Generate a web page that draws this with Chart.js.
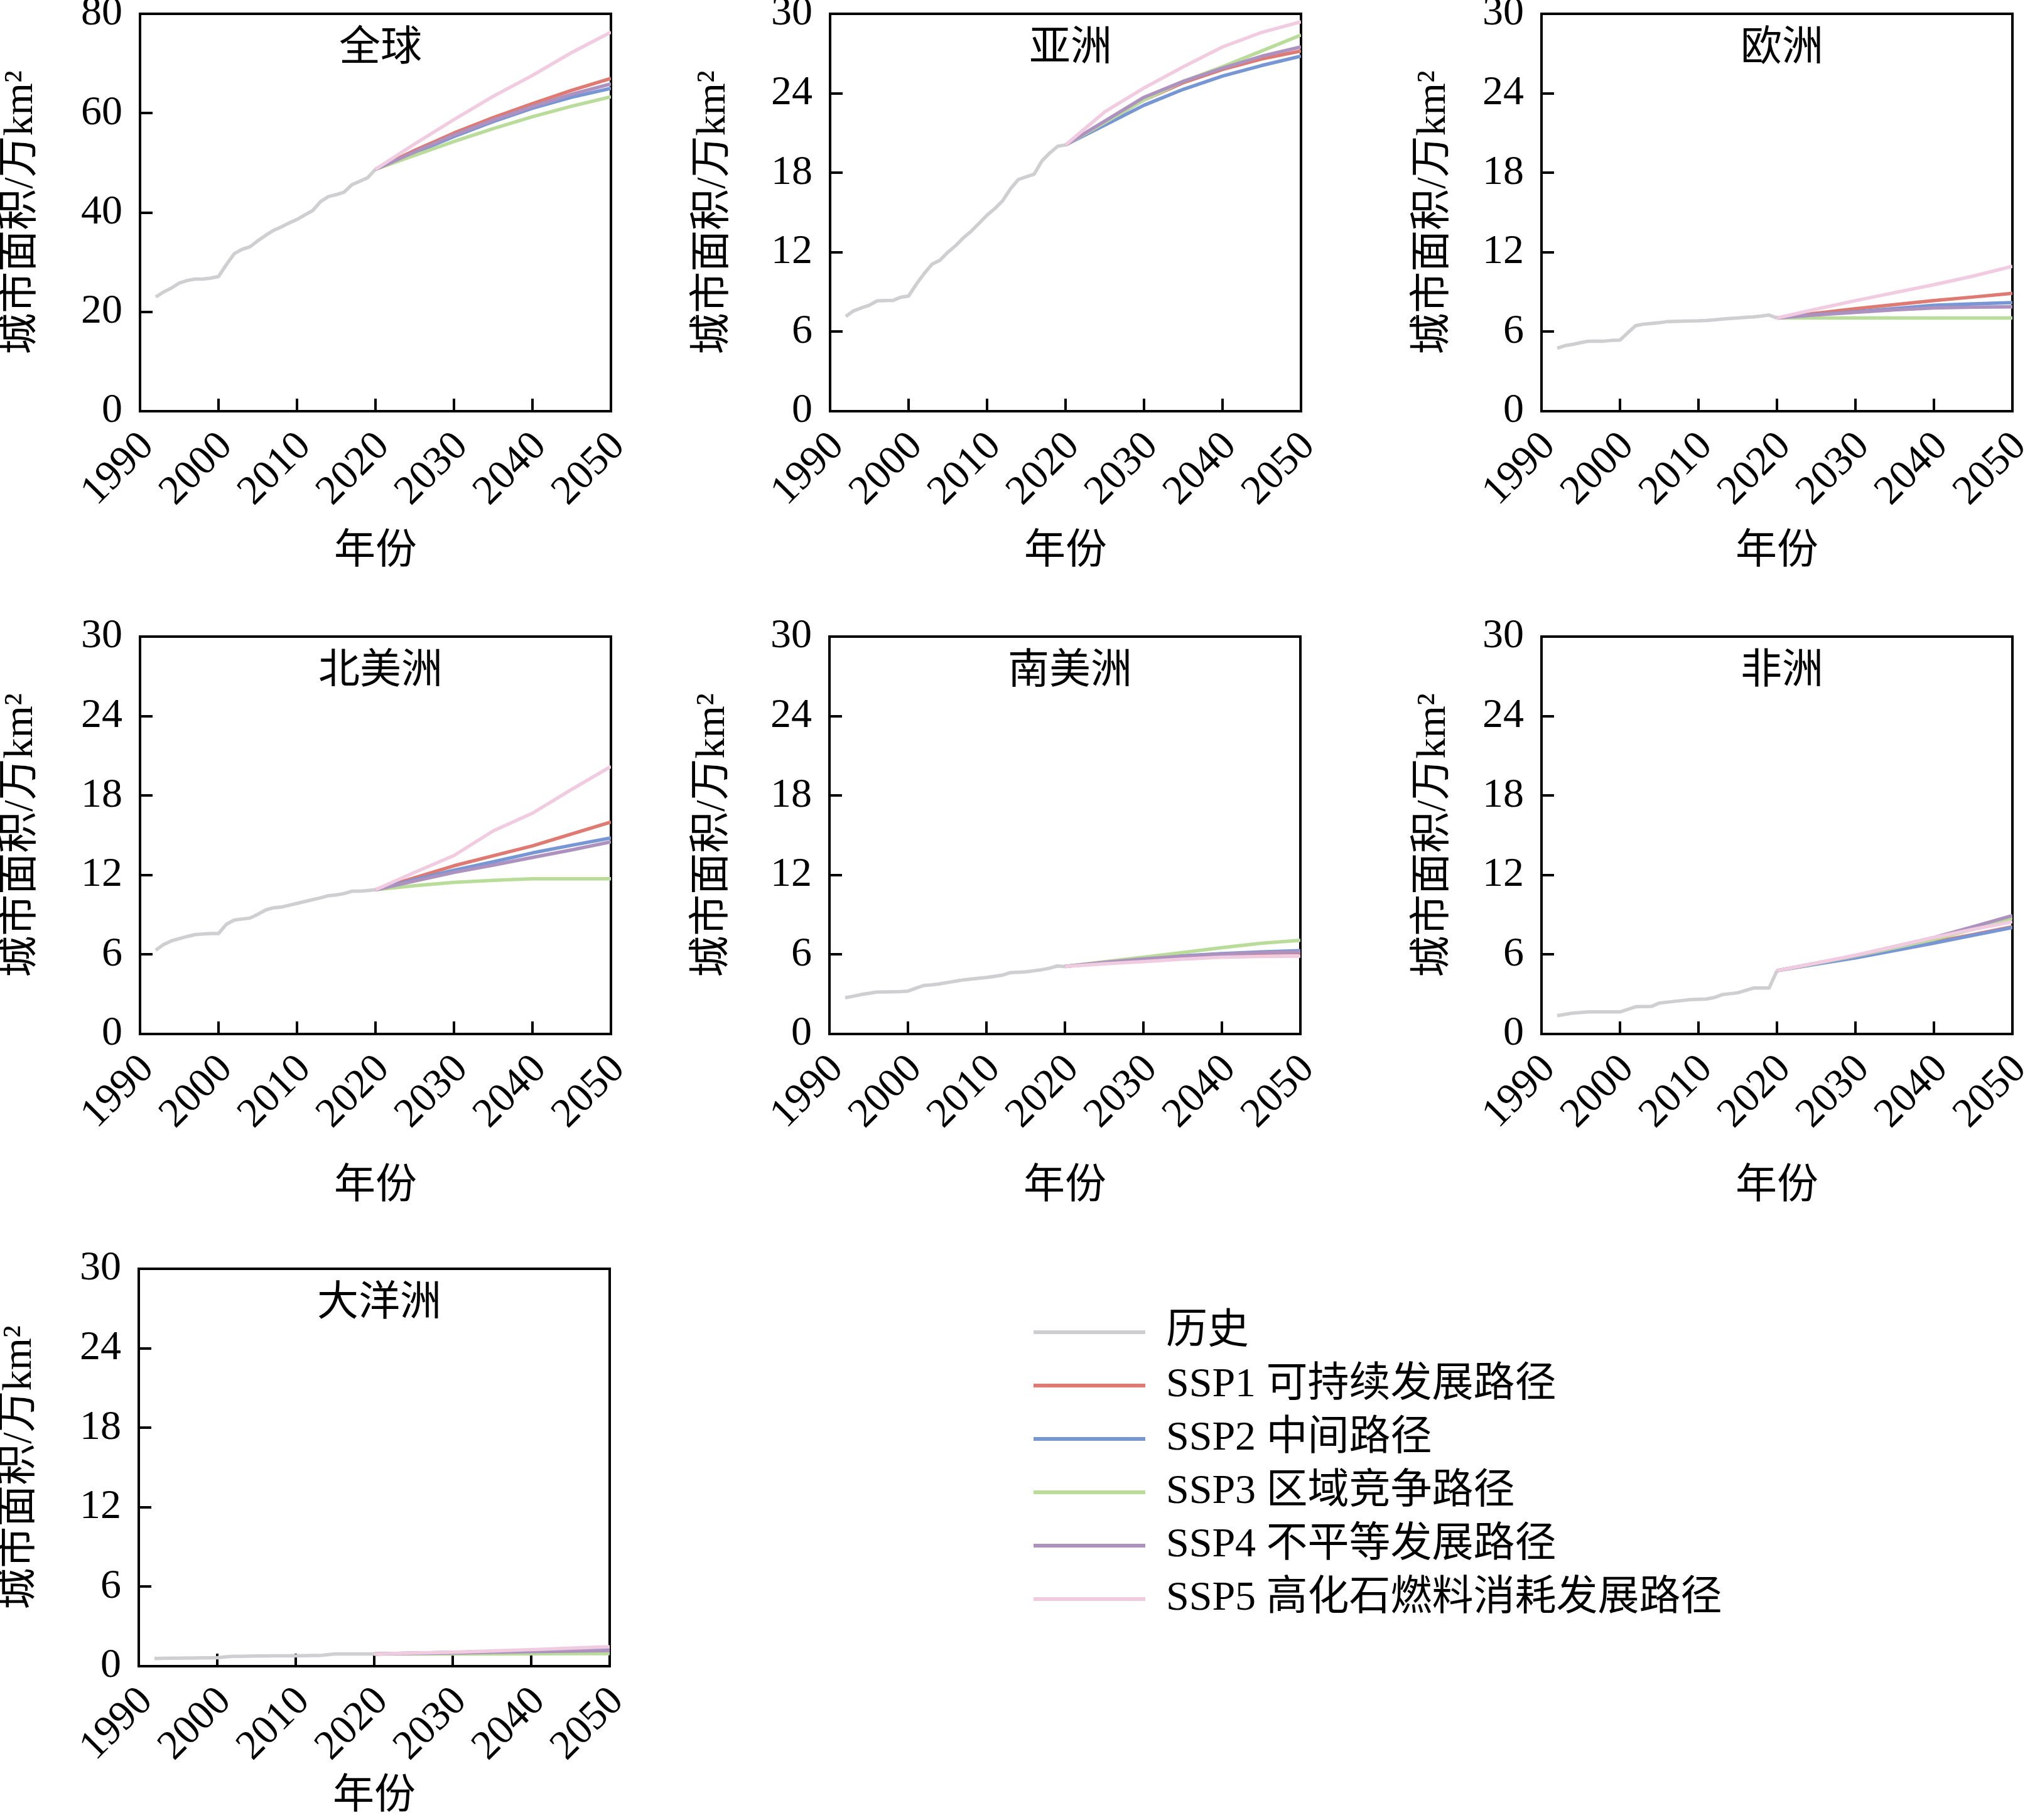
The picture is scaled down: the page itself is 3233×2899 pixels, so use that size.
<!DOCTYPE html>
<html>
<head>
<meta charset="utf-8">
<script src="https://cdn.jsdelivr.net/npm/chart.js@4.4.1/dist/chart.umd.min.js"></script>
<style>
html,body{margin:0;padding:0;background:#fff;overflow:hidden;}
#page{position:relative;width:3233px;height:2899px;overflow:hidden;background:#fff;}
#page canvas{position:absolute;}
</style>
</head>
<body>
<div id="page"></div>
<script>
// ---------------- DATA ----------------
const histYears = [1992,1993,1994,1995,1996,1997,1998,1999,2000,2001,2002,2003,2004,2005,2006,2007,2008,2009,2010,2011,2012,2013,2014,2015,2016,2017,2018,2019,2020];
const projYears = [2020,2025,2030,2035,2040,2045,2050];

const seriesNames = ['历史','SSP1 可持续发展路径','SSP2 中间路径','SSP3 区域竞争路径','SSP4 不平等发展路径','SSP5 高化石燃料消耗发展路径'];
const regionNames = ['全球','亚洲','欧洲','北美洲','南美洲','非洲','大洋洲'];
const xAxisTitle = '年份';
const yAxisTitle = '城市面积/万km²';

// 全球
const globalHist = [23.0,24.0,24.8,25.8,26.3,26.6,26.6,26.8,27.1,29.5,31.7,32.6,33.1,34.3,35.4,36.4,37.1,37.9,38.6,39.5,40.4,42.2,43.2,43.6,44.1,45.6,46.3,47.0,48.7];
const globalSSP1 = [48.7,52.5,56.0,59.1,61.9,64.6,67.0];
const globalSSP2 = [48.7,52.0,55.3,58.3,61.0,63.2,65.0];
const globalSSP3 = [48.7,51.5,54.3,56.9,59.3,61.4,63.3];
const globalSSP4 = [48.7,52.2,55.6,58.6,61.3,63.8,65.9];
const globalSSP5 = [48.7,53.8,58.7,63.4,67.6,72.2,76.3];

// 亚洲
const asiaHist = [7.16,7.58,7.8,8.0,8.33,8.35,8.36,8.6,8.7,9.6,10.4,11.1,11.4,12.0,12.5,13.1,13.6,14.2,14.8,15.3,15.9,16.8,17.5,17.7,17.9,18.9,19.5,20.0,20.1];
const asiaSSP1 = [20.1,21.8,23.5,24.8,25.8,26.6,27.2];
const asiaSSP2 = [20.1,21.6,23.1,24.3,25.3,26.1,26.8];
const asiaSSP3 = [20.1,21.8,23.5,24.9,26.0,27.2,28.4];
const asiaSSP4 = [20.1,21.9,23.7,24.9,25.9,26.8,27.5];
const asiaSSP5 = [20.1,22.6,24.4,26.0,27.5,28.6,29.4];

// 欧洲
const europeHist = [4.76,4.95,5.05,5.18,5.29,5.29,5.29,5.35,5.37,5.93,6.46,6.57,6.62,6.68,6.76,6.78,6.8,6.81,6.82,6.85,6.9,6.95,7.0,7.04,7.08,7.12,7.18,7.26,7.04];
const europeSSP1 = [7.04,7.4,7.74,8.05,8.35,8.62,8.9];
const europeSSP2 = [7.04,7.3,7.5,7.75,8.0,8.1,8.2];
const europeSSP3 = [7.04,7.04,7.04,7.04,7.04,7.04,7.04];
const europeSSP4 = [7.04,7.28,7.46,7.65,7.8,7.85,7.88];
const europeSSP5 = [7.04,7.7,8.35,8.95,9.55,10.2,10.94];

// 北美洲
const naHist = [6.33,6.75,7.03,7.2,7.36,7.5,7.55,7.58,7.58,8.28,8.6,8.68,8.75,9.03,9.36,9.53,9.58,9.72,9.86,10.0,10.14,10.28,10.44,10.5,10.6,10.78,10.78,10.83,10.89];
const naSSP1 = [10.89,11.8,12.7,13.45,14.2,15.1,16.0];
const naSSP2 = [10.89,11.65,12.36,13.0,13.67,14.25,14.8];
const naSSP3 = [10.89,11.2,11.44,11.6,11.72,11.72,11.72];
const naSSP4 = [10.89,11.55,12.2,12.75,13.33,13.9,14.5];
const naSSP5 = [10.89,12.2,13.47,15.33,16.67,18.47,20.2];

// 南美洲
const saHist = [2.74,2.85,2.97,3.07,3.16,3.18,3.19,3.2,3.24,3.45,3.66,3.71,3.78,3.88,3.98,4.08,4.15,4.21,4.27,4.35,4.44,4.63,4.66,4.69,4.77,4.85,4.96,5.13,5.10];
const saSSP1 = [5.10,5.4,5.66,5.85,6.0,6.1,6.15];
const saSSP2 = [5.10,5.4,5.68,5.9,6.07,6.2,6.29];
const saSSP3 = [5.10,5.45,5.79,6.15,6.52,6.85,7.07];
const saSSP4 = [5.10,5.4,5.66,5.88,6.03,6.15,6.2];
const saSSP5 = [5.10,5.3,5.46,5.65,5.79,5.85,5.88];

// 非洲
const africaHist = [1.39,1.48,1.58,1.62,1.67,1.67,1.67,1.67,1.67,1.86,2.06,2.07,2.08,2.33,2.4,2.47,2.53,2.6,2.62,2.64,2.75,2.97,3.04,3.11,3.29,3.47,3.47,3.47,4.78];
const africaSSP1 = [4.78,5.3,5.82,6.4,6.95,7.5,8.1];
const africaSSP2 = [4.78,5.27,5.75,6.3,6.86,7.45,8.03];
const africaSSP3 = [4.78,5.33,5.89,6.5,7.14,7.9,8.75];
const africaSSP4 = [4.78,5.35,5.92,6.6,7.28,8.1,8.94];
const africaSSP5 = [4.78,5.35,5.95,6.6,7.28,7.9,8.47];

// 大洋洲
const oceaniaHist = [0.58,0.59,0.6,0.61,0.62,0.62,0.63,0.63,0.64,0.7,0.75,0.75,0.76,0.77,0.77,0.78,0.78,0.78,0.78,0.79,0.8,0.8,0.86,0.92,0.92,0.92,0.92,0.92,0.92];
const oceaniaSSP1 = [0.92,0.98,1.03,1.09,1.15,1.2,1.25];
const oceaniaSSP2 = [0.92,0.98,1.04,1.1,1.16,1.22,1.28];
const oceaniaSSP3 = [0.92,0.92,0.93,0.93,0.94,0.95,0.95];
const oceaniaSSP4 = [0.92,0.96,1.0,1.05,1.1,1.14,1.18];
const oceaniaSSP5 = [0.92,1.0,1.06,1.15,1.25,1.36,1.47];

const globalYMax = 80, globalYStep = 20;
const regionYMax = 30, regionYStep = 6;

// ---------------- STYLE / LAYOUT ----------------
const seriesColors = ['#cfcfd1','#de7a72','#7796d4','#b9dc9a','#ad92c0','#f1cbe0'];
const FONT = "'Liberation Serif','Noto Sans CJK SC',serif";
const FS = 66;
Chart.defaults.font.family = FONT;
Chart.defaults.color = '#000';

const PLOT_W = 750, PLOT_H = 633;
const panels = [
  {name:regionNames[0], hist:globalHist, ssp:[globalSSP1,globalSSP2,globalSSP3,globalSSP4,globalSSP5], ymax:globalYMax, ystep:globalYStep, left:223,  top:22,   xh:270, xtp:5.4,  ytp:1.4},
  {name:regionNames[1], hist:asiaHist,   ssp:[asiaSSP1,asiaSSP2,asiaSSP3,asiaSSP4,asiaSSP5],       ymax:regionYMax, ystep:regionYStep, left:1322, top:22,   xh:270, xtp:5.4,  ytp:5.4},
  {name:regionNames[2], hist:europeHist, ssp:[europeSSP1,europeSSP2,europeSSP3,europeSSP4,europeSSP5], ymax:regionYMax, ystep:regionYStep, left:2455, top:22, xh:270, xtp:5.4,  ytp:19.4},
  {name:regionNames[3], hist:naHist,     ssp:[naSSP1,naSSP2,naSSP3,naSSP4,naSSP5],                 ymax:regionYMax, ystep:regionYStep, left:223,  top:1014, xh:290, xtp:6.4,  ytp:1.4},
  {name:regionNames[4], hist:saHist,     ssp:[saSSP1,saSSP2,saSSP3,saSSP4,saSSP5],                 ymax:regionYMax, ystep:regionYStep, left:1321, top:1014, xh:290, xtp:6.4,  ytp:5.4},
  {name:regionNames[5], hist:africaHist, ssp:[africaSSP1,africaSSP2,africaSSP3,africaSSP4,africaSSP5], ymax:regionYMax, ystep:regionYStep, left:2455, top:1014, xh:290, xtp:6.4, ytp:19.4},
  {name:regionNames[6], hist:oceaniaHist,ssp:[oceaniaSSP1,oceaniaSSP2,oceaniaSSP3,oceaniaSSP4,oceaniaSSP5], ymax:regionYMax, ystep:regionYStep, left:221, top:2021, xh:260, xtp:11.4, ytp:1.4}
];

const page = document.getElementById('page');

const panelTitle = {
  id: 'panelTitle',
  afterDraw(chart, args, opts) {
    const {ctx, chartArea: a} = chart;
    ctx.save();
    ctx.font = FS + 'px ' + FONT;
    ctx.fillStyle = '#000';
    ctx.textAlign = 'center';
    ctx.textBaseline = 'middle';
    ctx.fillText(opts.text, (a.left + a.right) / 2 + 8, a.top + 57);
    ctx.restore();
  }
};

function addCanvas(left, top, w, h) {
  const cv = document.createElement('canvas');
  cv.width = w; cv.height = h;
  cv.style.left = left + 'px'; cv.style.top = top + 'px';
  cv.style.width = w + 'px'; cv.style.height = h + 'px';
  page.appendChild(cv);
  return cv;
}

function makePanel(p) {
  const W = 230, PT = 40, PR = 70, H = p.xh;
  const cw = W + PLOT_W + PR, ch = PT + PLOT_H + H;
  const cv = addCanvas(p.left - W, p.top - PT, cw, ch);

  const datasets = [{
    label: seriesNames[0],
    data: histYears.map((yr, i) => ({x: yr, y: p.hist[i]})),
    borderColor: seriesColors[0], backgroundColor: seriesColors[0], order: 5
  }].concat(p.ssp.map((arr, k) => ({
    label: seriesNames[k + 1],
    data: projYears.map((yr, i) => ({x: yr, y: arr[i]})),
    borderColor: seriesColors[k + 1], backgroundColor: seriesColors[k + 1], order: 4 - k
  })));

  const gridOpts = {display: true, drawOnChartArea: false, drawTicks: true, tickLength: -20, lineWidth: 4, color: '#000'};
  const borderOpts = {display: true, color: '#000', width: 4};

  new Chart(cv, {
    type: 'line',
    data: {datasets},
    plugins: [panelTitle],
    options: {
      responsive: false, animation: false, devicePixelRatio: 1,
      layout: {padding: {left: 0, top: PT, right: PR, bottom: 0}},
      elements: {
        point: {radius: 0, hoverRadius: 0},
        line: {borderWidth: 5.5, tension: 0, fill: false, borderCapStyle: 'butt', borderJoinStyle: 'round'}
      },
      plugins: {legend: {display: false}, tooltip: {enabled: false}, panelTitle: {text: p.name}},
      scales: {
        x: {
          type: 'linear', position: 'bottom', min: 1990, max: 2050,
          ticks: {stepSize: 10, autoSkip: false, minRotation: 45, maxRotation: 45, padding: 38, labelOffset: 12,
                  color: '#000', font: {size: FS}, callback: v => String(v)},
          grid: gridOpts, border: borderOpts,
          title: {display: true, text: xAxisTitle, color: '#000', font: {size: FS}, padding: {top: 0, bottom: p.xtp}},
          afterFit: s => { s.height = H; s.paddingLeft = 0; s.paddingRight = 0; }
        },
        y: {
          type: 'linear', position: 'left', min: 0, max: p.ymax,
          ticks: {stepSize: p.ystep, padding: 48, color: '#000', font: {size: FS}, callback: v => String(v)},
          grid: gridOpts, border: borderOpts,
          title: {display: true, text: yAxisTitle, color: '#000', font: {size: FS}, padding: {top: p.ytp, bottom: 0}},
          afterFit: s => { s.width = W; s.paddingTop = 0; s.paddingBottom = 0; }
        },
        x2: {
          type: 'linear', position: 'top', min: 1990, max: 2050,
          ticks: {display: false}, grid: {display: true, drawOnChartArea: false, drawTicks: false},
          border: borderOpts, afterFit: s => { s.height = 0; }
        },
        y2: {
          type: 'linear', position: 'right', min: 0, max: p.ymax,
          ticks: {display: false}, grid: {display: true, drawOnChartArea: false, drawTicks: false},
          border: borderOpts, afterFit: s => { s.width = 0; }
        }
      }
    }
  });
}

panels.forEach(makePanel);

// ---------------- LEGEND ----------------
const legendCanvas = addCanvas(1627, 2070, 2700, 600);
new Chart(legendCanvas, {
  type: 'line',
  data: {datasets: seriesNames.map((n, i) => ({label: n, data: [], borderColor: seriesColors[i], backgroundColor: seriesColors[i], borderWidth: 0}))},
  options: {
    responsive: false, animation: false, devicePixelRatio: 1,
    layout: {padding: 0},
    scales: {x: {display: false}, y: {display: false}},
    plugins: {
      tooltip: {enabled: false},
      legend: {display: true, position: 'left', align: 'start',
        labels: {boxWidth: 178, boxHeight: 6, padding: 19, color: '#000', font: {size: FS}}}
    }
  }
});
</script>
</body>
</html>
